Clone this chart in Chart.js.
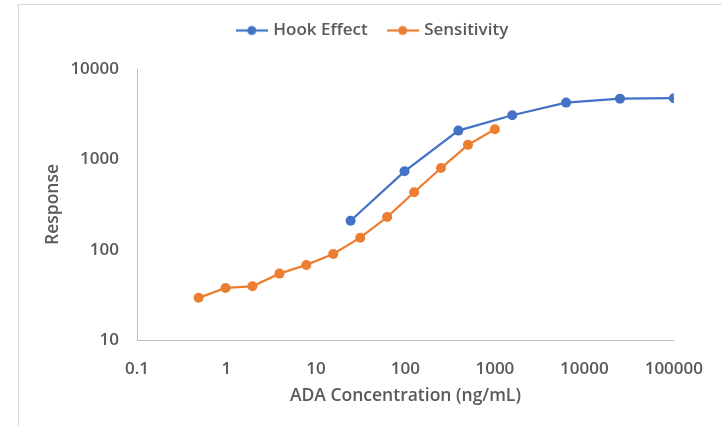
<!DOCTYPE html>
<html>
<head>
<meta charset="utf-8">
<script src="https://cdn.jsdelivr.net/npm/chart.js@4"></script>
<style>
  body { margin: 0; background: #fff; }
  #wrap { position: relative; width: 722px; height: 426px; }
  #frame { position: absolute; left: 18px; top: 4px; right: -2px; bottom: -2px; border-top: 1px solid #d9d9d9; border-left: 1px solid #d9d9d9; }
  canvas { position: absolute; left: 0; top: 0; }
</style>
</head>
<body>
<div id="wrap">
  <div id="frame"></div>
  <canvas id="chart" width="722" height="426"></canvas>
</div>
<script>
// Hook effect: 4-fold dilutions
const hookConc = [24.4, 97.7, 390.6, 1562.5, 6250, 25000, 100000];
const hookResp = [209, 737, 2080, 3078, 4246, 4698, 4750];

// Sensitivity: 2-fold dilutions
const sensConc = [0.488, 0.977, 1.95, 3.91, 7.81, 15.6, 31.25, 62.5, 125, 250, 500, 1000];
const sensResp = [29.3, 37.7, 39.3, 54.3, 67.8, 89.6, 135.8, 229.6, 431.7, 801, 1446, 2157];

const xTicks = [0.1, 1, 10, 100, 1000, 10000, 100000];
const yTicks = [10, 100, 1000, 10000];

const BLUE = '#4472C4';
const ORANGE = '#ED7D31';
const TEXT = '#595959';
const FONT = '"Open Sans", sans-serif';

function toPoints(xs, ys) {
  return xs.map((x, i) => ({x: x, y: ys[i]}));
}

// little line+dot icon for the legend
function legendIcon(color) {
  const c = document.createElement('canvas');
  c.width = 32; c.height = 12;
  const g = c.getContext('2d');
  g.strokeStyle = color;
  g.lineWidth = 2.25;
  g.beginPath(); g.moveTo(0, 6); g.lineTo(32, 6); g.stroke();
  g.fillStyle = color;
  g.beginPath(); g.arc(16, 6, 4.5, 0, Math.PI * 2); g.fill();
  return c;
}
const icons = [legendIcon(BLUE), legendIcon(ORANGE)];

const legendFix = {
  id: 'legendFix',
  beforeInit(chart) {
    const fit = chart.legend.fit;
    chart.legend.fit = function () {
      fit.call(this);
      this.height = 69;
    };
  },
  afterLayout(chart) {
    // legend sits a bit right of centre in the original
    chart.legend.left += 36;
    chart.legend.right += 36;
  }
};

new Chart(document.getElementById('chart'), {
  type: 'line',
  data: {
    datasets: [{
      label: 'Hook Effect',
      data: toPoints(hookConc, hookResp),
      borderColor: BLUE,
      backgroundColor: BLUE,
      borderWidth: 2.25,
      pointRadius: 5,
      pointBorderWidth: 0,
      tension: 0
    }, {
      label: 'Sensitivity',
      data: toPoints(sensConc, sensResp),
      borderColor: ORANGE,
      backgroundColor: ORANGE,
      borderWidth: 2.25,
      pointRadius: 5,
      pointBorderWidth: 0,
      tension: 0
    }]
  },
  options: {
    responsive: false,
    animation: false,
    layout: { padding: { left: 0, right: 47, top: 0, bottom: 0 } },
    plugins: {
      tooltip: { enabled: false },
      legend: {
        position: 'top',
        labels: {
          usePointStyle: true,
          pointStyleWidth: 26,
          padding: 22,
          color: TEXT,
          font: { family: FONT, size: 17, weight: '600' },
          generateLabels: function (chart) {
            const items = Chart.defaults.plugins.legend.labels.generateLabels(chart);
            items.forEach((it, i) => { it.pointStyle = icons[i]; });
            return items;
          }
        }
      }
    },
    scales: {
      x: {
        type: 'logarithmic',
        min: 0.1,
        max: 100000,
        grid: { display: false, drawTicks: false },
        border: { display: true, color: '#bfbfbf', width: 1 },
        ticks: {
          color: TEXT,
          font: { family: FONT, size: 17, weight: '600' },
          padding: 19,
          autoSkip: false,
          maxRotation: 0,
          callback: v => String(v)
        },
        afterBuildTicks: s => { s.ticks = xTicks.map(v => ({ value: v })); },
        afterFit: s => { s.height = 86; },
        title: {
          display: true,
          text: 'ADA Concentration (ng/mL)',
          color: TEXT,
          font: { family: FONT, size: 17.5, weight: '600' },
          padding: { top: 0, bottom: 19 }
        }
      },
      y: {
        type: 'logarithmic',
        min: 10,
        max: 10000,
        grid: { display: false, drawTicks: false },
        border: { display: true, color: '#bfbfbf', width: 1 },
        ticks: {
          color: TEXT,
          font: { family: FONT, size: 17, weight: '600' },
          padding: 18,
          autoSkip: false,
          callback: v => String(v)
        },
        afterBuildTicks: s => { s.ticks = yTicks.map(v => ({ value: v })); },
        afterFit: s => { s.width = 137; },
        title: {
          display: true,
          text: 'Response',
          color: TEXT,
          font: { family: FONT, size: 17.5, weight: '600' },
          padding: { top: 43, bottom: 0 }
        }
      }
    }
  },
  plugins: [legendFix]
});
</script>
</body>
</html>
